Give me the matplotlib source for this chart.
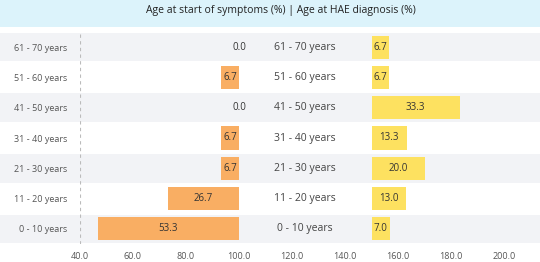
import numpy as np
import matplotlib
matplotlib.use('Agg')
import matplotlib.pyplot as plt
from matplotlib.patches import Rectangle
from matplotlib.transforms import blended_transform_factory

ages = ['0 - 10 years', '11 - 20 years', '21 - 30 years', '31 - 40 years',
        '41 - 50 years', '51 - 60 years', '61 - 70 years']
symptoms = [53.3, 26.7, 6.7, 6.7, 0.0, 6.7, 0.0]
diagnosis = [7.0, 13.0, 20.0, 13.3, 33.3, 6.7, 6.7]
xticks = [40, 60, 80, 100, 120, 140, 160, 180, 200]

plt.rcParams['font.family'] = ['Open Sans', 'DejaVu Sans']

fig = plt.figure(figsize=(5.4, 2.62), dpi=100)
fig.patch.set_facecolor('white')
# light blue title band
fig.patches.append(Rectangle((0, 1 - 27 / 262), 1, 27 / 262, transform=fig.transFigure,
                             facecolor='#dcf3fb', edgecolor='none', zorder=0))
fig.text(0.52, 1 - 11 / 262, 'Age at start of symptoms (%) | Age at HAE diagnosis (%)',
         ha='center', va='center', fontsize=7.5, color='#222222')

ax = fig.add_axes([80 / 540, 1 - 244 / 262, 460 / 540, 212 / 262])
ax.set_facecolor('none')
y = np.arange(len(ages))
ax.set_xlim(40, 40 + 460 / 2.65)
ax.set_ylim(-0.5, len(ages) - 0.5)

# alternating dotted-grey row bands across the whole width
trans = blended_transform_factory(fig.transFigure, ax.transData)
for i in y:
    if i % 2 == 0:
        ax.add_patch(Rectangle((0, i - 0.47), 1, 0.94, transform=trans, clip_on=False,
                               facecolor='#f2f3f6', edgecolor='none', zorder=0))

sym = np.array(symptoms)
dia = np.array(diagnosis)
ax.barh(y, sym, left=100 - sym, height=0.76, color='#f9ae63', zorder=2)
ax.barh(y, dia, left=150, height=0.76, color='#fde160', zorder=2)

for i in y:
    ax.text(100 - sym[i] / 2, i, f'{sym[i]:.1f}', ha='center', va='center',
            fontsize=7, color='#333333', zorder=3)
    ax.text(150 + dia[i] / 2, i, f'{dia[i]:.1f}', ha='center', va='center',
            fontsize=7, color='#333333', zorder=3)
    ax.text(125, i, ages[i], ha='center', va='center', fontsize=7.5, color='#444444', zorder=3)

ax.axvline(40, color='#bbbbbb', linestyle=(0, (3, 3)), linewidth=0.8, zorder=1)

ax.set_yticks(y)
ax.set_yticklabels(ages, fontsize=6.5, color='#555555')
ax.set_xticks(xticks)
ax.set_xticklabels([f'{t:.1f}' for t in xticks], fontsize=6.5, color='#555555')
ax.tick_params(axis='both', length=0, pad=6)
ax.tick_params(axis='y', pad=9)
for s in ax.spines.values():
    s.set_visible(False)

fig.savefig('out.png', dpi=100)
